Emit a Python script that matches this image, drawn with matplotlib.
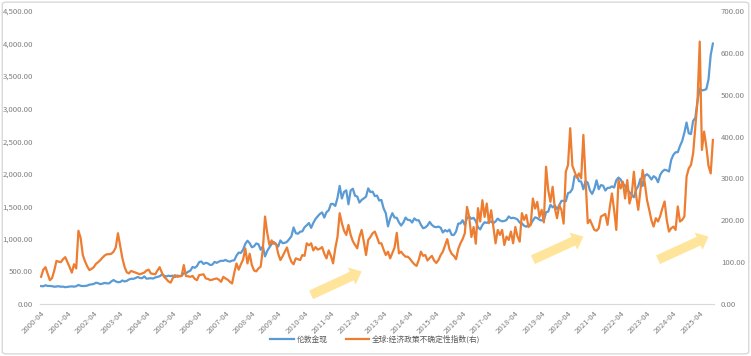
import matplotlib

matplotlib.use("Agg")
import matplotlib.pyplot as plt
import numpy as np
from matplotlib.patches import FancyBboxPatch

plt.rcParams["font.family"] = ["Noto Sans CJK SC", "DejaVu Sans"]

# monthly data, 2000-04 .. 2025-10
start_year, start_month = 2000, 4

# London spot gold, month end (USD/oz)
gold = [
    275, 272, 288, 277, 277, 274, 265, 269, 273,                           # 2000
    265, 267, 258, 263, 268, 271, 266, 273, 293, 279, 276, 277,            # 2001
    282, 297, 301, 308, 327, 319, 305, 313, 324, 317, 317, 347,            # 2002
    368, 347, 335, 337, 361, 346, 355, 376, 388, 386, 398, 416,            # 2003
    400, 396, 424, 389, 393, 396, 391, 407, 416, 426, 453, 436,            # 2004
    422, 435, 428, 436, 414, 437, 429, 433, 473, 471, 496, 513,            # 2005
    569, 556, 582, 644, 653, 614, 633, 624, 599, 604, 647, 632,            # 2006
    651, 664, 662, 677, 659, 651, 666, 672, 743, 790, 784, 834,            # 2007
    923, 972, 934, 871, 886, 930, 918, 833, 885, 731, 815, 870,            # 2008
    920, 952, 917, 883, 976, 935, 939, 956, 996, 1040, 1176, 1088,         # 2009
    1079, 1110, 1116, 1179, 1208, 1244, 1169, 1246, 1307, 1347, 1384, 1406,  # 2010
    1327, 1411, 1439, 1536, 1537, 1506, 1629, 1814, 1620, 1722, 1746, 1531,  # 2011
    1744, 1770, 1663, 1651, 1558, 1599, 1622, 1649, 1776, 1719, 1726, 1658,  # 2012
    1665, 1589, 1598, 1469, 1395, 1192, 1315, 1395, 1327, 1324, 1253, 1205,  # 2013
    1251, 1327, 1292, 1289, 1251, 1315, 1286, 1286, 1217, 1164, 1176, 1206,  # 2014
    1260, 1214, 1187, 1180, 1189, 1171, 1098, 1135, 1114, 1142, 1062, 1060,  # 2015
    1112, 1235, 1237, 1286, 1212, 1321, 1342, 1309, 1323, 1272, 1178, 1146,  # 2016
    1213, 1256, 1245, 1266, 1266, 1242, 1268, 1312, 1283, 1270, 1275, 1291,  # 2017
    1345, 1318, 1324, 1315, 1298, 1250, 1238, 1202, 1187, 1215, 1222, 1282,  # 2018
    1331, 1319, 1295, 1283, 1284, 1409, 1420, 1523, 1485, 1511, 1458, 1515,  # 2019
    1583, 1586, 1577, 1703, 1716, 1768, 1963, 1970, 1887, 1880, 1762, 1888,  # 2020
    1863, 1743, 1691, 1768, 1900, 1763, 1826, 1817, 1743, 1783, 1785, 1806,  # 2021
    1788, 1901, 1942, 1911, 1848, 1817, 1753, 1719, 1672, 1640, 1754, 1812,  # 2022
    1924, 1813, 1969, 1993, 1962, 1912, 1963, 1939, 1870, 1983, 2036, 2062,  # 2023
    2053, 2035, 2214, 2291, 2331, 2331, 2427, 2503, 2630, 2787, 2622, 2609,  # 2024
    2813, 2859, 3123, 3310, 3280, 3287, 3300, 3448, 3825, 4000,              # 2025
]

# global economic policy uncertainty index (right axis)
epu = [
    65, 82, 88, 72, 57, 62, 80, 103, 101, 100,
    107, 112, 100, 88, 75, 95, 85, 175, 158, 117,
    102, 90, 81, 84, 88, 96, 100, 105, 111, 116,
    119, 119, 120, 125, 135, 169, 140, 110, 89, 76,
    73, 79, 77, 75, 73, 71, 73, 75, 80, 82,
    73, 72, 71, 80, 88, 75, 65, 60, 54, 51,
    62, 69, 65, 66, 67, 93, 67, 66, 65, 67,
    60, 57, 69, 70, 71, 61, 60, 57, 58, 60,
    61, 58, 53, 65, 61, 58, 53, 49, 75, 97,
    82, 95, 106, 133, 97, 120, 93, 80, 78, 85,
    89, 130, 209, 170, 141, 152, 144, 144, 120, 105,
    114, 125, 135, 115, 101, 95, 109, 107, 105, 117,
    115, 145, 140, 145, 128, 136, 130, 132, 136, 120,
    109, 128, 115, 97, 133, 160, 217, 193, 175, 165,
    189, 165, 150, 141, 133, 160, 177, 149, 117, 153,
    160, 169, 173, 160, 145, 145, 130, 117, 125, 109,
    122, 135, 170, 121, 125, 118, 113, 113, 108, 101,
    95, 91, 105, 125, 115, 117, 104, 110, 115, 104,
    98, 105, 117, 125, 140, 155, 131, 120, 115, 107,
    131, 145, 155, 169, 232, 208, 160, 184, 144, 229,
    197, 248, 208, 240, 193, 224, 185, 145, 177, 165,
    177, 141, 161, 153, 173, 145, 184, 161, 149, 217,
    201, 213, 184, 189, 252, 228, 244, 208, 225, 195,
    328, 272, 244, 280, 229, 205, 236, 225, 192, 316,
    332, 420, 330, 316, 302, 312, 300, 404, 300, 193,
    201, 189, 177, 175, 181, 209, 212, 215, 189, 230,
    264, 225, 177, 296, 276, 292, 252, 296, 240, 260,
    316, 260, 225, 272, 320, 288, 248, 225, 200, 185,
    205, 197, 210, 229, 245, 200, 173, 181, 185, 177,
    233, 197, 201, 209, 304, 324, 332, 360, 424, 487,
    627, 368, 412, 376, 330, 312, 392,
]

left_ticks = list(range(0, 4501, 500))
right_ticks = list(range(0, 701, 100))
tick_years = list(range(2000, 2026))

BLUE = "#5B9BD5"
ORANGE = "#ED7D31"
GREY = "#7F7F7F"

fig = plt.figure(figsize=(7.51, 3.56), dpi=100)
ax = fig.add_axes([40 / 751, 52 / 356, 674 / 751, 293 / 356])
ax2 = ax.twinx()

x = np.arange(len(gold))
l1, = ax.plot(x, gold, color=BLUE, lw=1.6, solid_joinstyle="round")
l2, = ax2.plot(np.arange(len(epu)), epu, color=ORANGE, lw=1.6, solid_joinstyle="round")

ax.set_xlim(-0.5, len(gold) - 0.5)
ax.set_ylim(0, 4500)
ax2.set_ylim(0, 700)

ax.set_yticks(left_ticks)
ax.set_yticklabels([f"{v:,.2f}" for v in left_ticks])
ax2.set_yticks(right_ticks)
ax2.set_yticklabels([f"{v:.2f}" for v in right_ticks])

xt = [(y - start_year) * 12 for y in tick_years]
ax.set_xticks(xt)
ax.set_xticklabels([f"{y}-{start_month:02d}" for y in tick_years],
                   rotation=45, ha="right", rotation_mode="anchor")

for a in (ax, ax2):
    for s in ("top", "left", "right"):
        a.spines[s].set_visible(False)
    a.tick_params(length=0, labelsize=5.6, labelcolor=GREY)
ax2.spines["bottom"].set_visible(False)
ax.spines["bottom"].set_color("#D9D9D9")
ax.spines["bottom"].set_linewidth(0.8)
ax.tick_params(axis="y", pad=5)
ax.tick_params(axis="x", pad=4)
ax2.tick_params(axis="y", pad=5)

# yellow trend arrows (month index, left-axis value)
arrows = [((123, 140), (146, 500)), ((224, 680), (247, 1035)), ((281, 680), (304, 1035))]
for tail, tip in arrows:
    ax.annotate("", xy=tip, xytext=tail,
                arrowprops=dict(arrowstyle="simple,head_length=0.75,head_width=1.3,tail_width=0.65",
                                color="#FFE08A", alpha=0.85, lw=0, mutation_scale=10.5,
                                shrinkA=0, shrinkB=0))

leg = fig.legend([l1, l2], ["伦敦金现", "全球:经济政策不确定性指数(右)"],
                 loc="lower center", bbox_to_anchor=(0.5, 0.015), ncol=2, frameon=False,
                 fontsize=5.6, handlelength=3.0, columnspacing=2.3, handletextpad=0.4)
for t in leg.get_texts():
    t.set_color("#595959")

border = FancyBboxPatch((0.003, 0.006), 0.994, 0.988, boxstyle="round,pad=0,rounding_size=0.006",
                        transform=fig.transFigure, fill=False, ec="#D9D9D9", lw=1)
fig.patches.append(border)

fig.savefig("out.png", dpi=100, facecolor="white")
